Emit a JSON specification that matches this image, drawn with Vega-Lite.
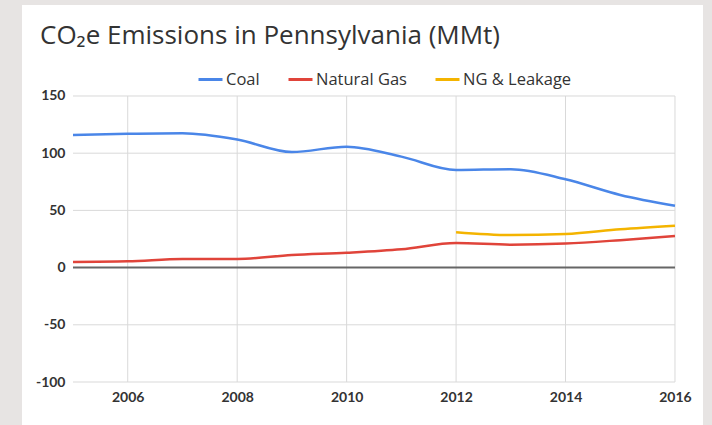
{
  "$schema": "https://vega.github.io/schema/vega-lite/v6.json",
  "width": 681,
  "height": 420,
  "autosize": "none",
  "padding": {"left": 22, "top": 5, "right": 9, "bottom": 0},
  "background": "#e7e4e3",
  "view": {"fill": "white", "stroke": null},
  "title": {
    "text": "CO₂e Emissions in Pennsylvania (MMt)",
    "anchor": "start",
    "frame": "group",
    "dx": 18,
    "dy": 25,
    "offset": -40,
    "baseline": "alphabetic",
    "font": "Open Sans",
    "fontSize": 26,
    "fontWeight": "normal",
    "color": "#333333"
  },
  "config": {
    "axis": {
      "labelFont": "Lato",
      "labelFontWeight": "bold",
      "labelFontSize": 14,
      "labelColor": "#333333",
      "grid": false,
      "ticks": false,
      "domain": false,
      "title": null
    },
    "legend": {
      "labelFont": "Open Sans",
      "labelFontSize": 16.5,
      "labelColor": "#333333",
      "symbolType": "stroke",
      "symbolStrokeWidth": 3,
      "symbolSize": 576,
      "labelOffset": 2,
      "columnPadding": 22,
      "padding": 0
    }
  },
  "data": {
    "values": [
      {"year": 2005, "series": "Coal", "value": 116},
      {"year": 2006, "series": "Coal", "value": 117},
      {"year": 2007, "series": "Coal", "value": 117.5},
      {"year": 2008, "series": "Coal", "value": 112},
      {"year": 2009, "series": "Coal", "value": 101},
      {"year": 2010, "series": "Coal", "value": 105.7},
      {"year": 2011, "series": "Coal", "value": 97},
      {"year": 2012, "series": "Coal", "value": 85.3},
      {"year": 2013, "series": "Coal", "value": 86},
      {"year": 2014, "series": "Coal", "value": 77.2},
      {"year": 2015, "series": "Coal", "value": 63.5},
      {"year": 2016, "series": "Coal", "value": 54},
      {"year": 2005, "series": "Natural Gas", "value": 5},
      {"year": 2006, "series": "Natural Gas", "value": 5.5},
      {"year": 2007, "series": "Natural Gas", "value": 7.5},
      {"year": 2008, "series": "Natural Gas", "value": 7.5},
      {"year": 2009, "series": "Natural Gas", "value": 11},
      {"year": 2010, "series": "Natural Gas", "value": 13},
      {"year": 2011, "series": "Natural Gas", "value": 16},
      {"year": 2012, "series": "Natural Gas", "value": 21.5},
      {"year": 2013, "series": "Natural Gas", "value": 20},
      {"year": 2014, "series": "Natural Gas", "value": 21},
      {"year": 2015, "series": "Natural Gas", "value": 24},
      {"year": 2016, "series": "Natural Gas", "value": 27.6},
      {"year": 2012, "series": "NG & Leakage", "value": 31},
      {"year": 2013, "series": "NG & Leakage", "value": 28.5},
      {"year": 2014, "series": "NG & Leakage", "value": 29.3},
      {"year": 2015, "series": "NG & Leakage", "value": 33.5},
      {"year": 2016, "series": "NG & Leakage", "value": 36.6}
    ]
  },
  "encoding": {
    "x": {"type": "quantitative", "scale": {"domain": [2004.068, 2016.512], "nice": false, "zero": false}},
    "y": {"type": "quantitative", "scale": {"domain": [-137.587, 229.545], "nice": false, "zero": false}}
  },
  "layer": [
    {
      "data": {"values": [{"gx": 2006}, {"gx": 2008}, {"gx": 2010}, {"gx": 2012}, {"gx": 2014}, {"gx": 2016}]},
      "mark": {"type": "rule", "color": "#d9d9d9", "strokeWidth": 1},
      "encoding": {
        "x": {"field": "gx", "type": "quantitative"},
        "y": {"datum": -100},
        "y2": {"datum": 150}
      }
    },
    {
      "data": {"values": [{"gy": -100}, {"gy": -50}, {"gy": 50}, {"gy": 100}, {"gy": 150}]},
      "mark": {"type": "rule", "color": "#d9d9d9", "strokeWidth": 1},
      "encoding": {
        "y": {"field": "gy", "type": "quantitative"},
        "x": {"datum": 2005},
        "x2": {"datum": 2016}
      }
    },
    {
      "data": {"values": [{"gy": 0}]},
      "mark": {"type": "rule", "color": "#666666", "strokeWidth": 2},
      "encoding": {
        "y": {"field": "gy", "type": "quantitative"},
        "x": {"datum": 2005},
        "x2": {"datum": 2016}
      }
    },
    {
      "mark": {"type": "line", "interpolate": "monotone", "strokeWidth": 2.5},
      "encoding": {
        "x": {
          "field": "year",
          "type": "quantitative",
          "axis": {"values": [2006, 2008, 2010, 2012, 2014, 2016], "format": "d", "labelPadding": 8, "offset": -43}
        },
        "y": {
          "field": "value",
          "type": "quantitative",
          "axis": {
            "values": [-100, -50, 0, 50, 100, 150],
            "labelPadding": 8,
            "offset": -51,
            "labelExpr": "replace(datum.label, '−', '-')"
          }
        },
        "color": {
          "field": "series",
          "type": "nominal",
          "sort": ["Coal", "Natural Gas", "NG & Leakage"],
          "scale": {"domain": ["Coal", "Natural Gas", "NG & Leakage"], "range": ["#4a86e8", "#e0443a", "#f4b400"]},
          "legend": {"orient": "none", "legendX": 175, "legendY": 61, "title": null, "direction": "horizontal"}
        }
      }
    }
  ]
}
